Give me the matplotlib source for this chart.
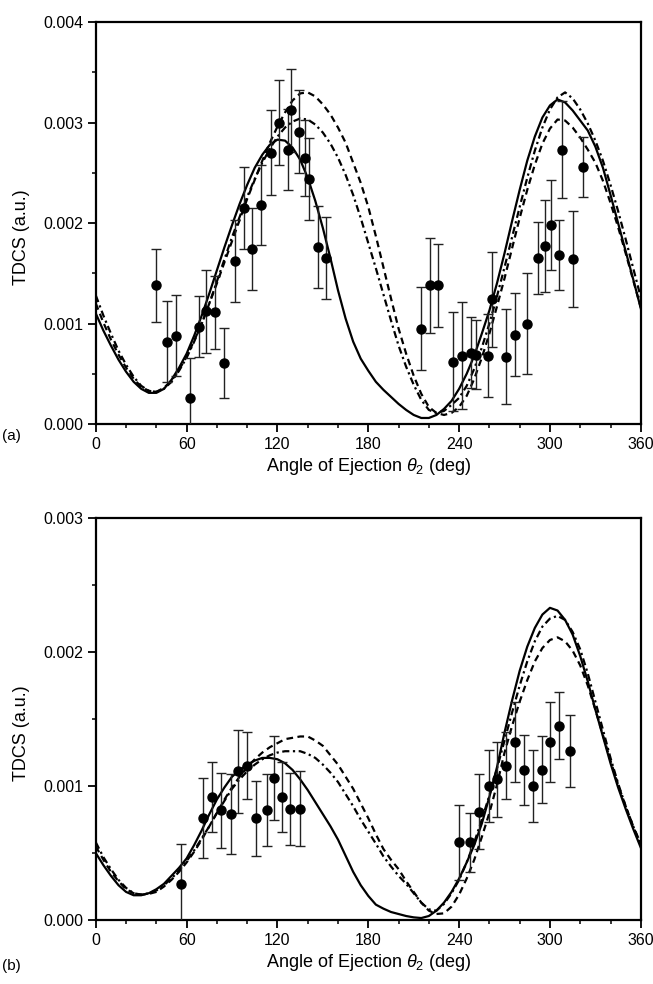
import numpy as np
import matplotlib
matplotlib.use('Agg')
import matplotlib.pyplot as plt
from matplotlib.ticker import MultipleLocator

plt.rcParams['font.family'] = ['Liberation Sans', 'DejaVu Sans']
plt.rcParams['mathtext.fontset'] = 'custom'
plt.rcParams['mathtext.it'] = 'Liberation Sans:italic'
plt.rcParams['mathtext.rm'] = 'Liberation Sans'

# ---------------- panel (a) : experiment (TDCS x 1e-3) ----------------
a_ang = [40, 47, 53, 62, 68, 73, 79, 85, 92, 98, 103, 109, 116, 121, 127, 129,
         134, 138, 141, 147, 152, 215, 221, 226, 236, 242, 248, 251, 259, 262,
         271, 277, 285, 292, 297, 301, 306, 308, 315, 322]
a_tdcs = [1.38, 0.82, 0.88, 0.26, 0.97, 1.12, 1.11, 0.61, 1.62, 2.15, 1.74, 2.18,
          2.70, 3.00, 2.73, 3.12, 2.91, 2.65, 2.44, 1.76, 1.65, 0.95, 1.38, 1.38,
          0.62, 0.68, 0.71, 0.69, 0.68, 1.24, 0.67, 0.89, 1.00, 1.65, 1.77, 1.98,
          1.68, 2.73, 1.64, 2.56]
a_err = [0.36, 0.40, 0.40, 0.40, 0.30, 0.41, 0.36, 0.35, 0.41, 0.41, 0.41, 0.40,
         0.42, 0.42, 0.40, 0.41, 0.41, 0.38, 0.41, 0.41, 0.41, 0.41, 0.47, 0.41,
         0.49, 0.53, 0.35, 0.34, 0.41, 0.47, 0.47, 0.41, 0.50, 0.36, 0.46, 0.45,
         0.35, 0.48, 0.48, 0.30]

# ---------------- panel (b) : experiment (TDCS x 1e-3) ----------------
b_ang = [56, 71, 77, 83, 89, 94, 100, 106, 113, 118, 123, 128, 135,
         240, 247, 253, 260, 265, 271, 277, 283, 289, 295, 300, 306, 313]
b_tdcs = [0.27, 0.76, 0.92, 0.82, 0.79, 1.11, 1.15, 0.76, 0.82, 1.06, 0.92, 0.83, 0.83,
          0.58, 0.58, 0.81, 1.00, 1.05, 1.15, 1.33, 1.12, 1.00, 1.12, 1.33, 1.45, 1.26]
b_err = [0.30, 0.30, 0.26, 0.28, 0.30, 0.31, 0.25, 0.28, 0.27, 0.31, 0.26, 0.27, 0.28,
         0.28, 0.22, 0.28, 0.27, 0.28, 0.25, 0.30, 0.26, 0.27, 0.25, 0.30, 0.25, 0.27]

# ---------------- theory curves (TDCS x 1e-3, every 5 deg from 0 to 360) ----------------
theory_ang = list(range(0, 361, 5))

a_solid = [1.10, 0.93, 0.78, 0.64, 0.52, 0.42, 0.35, 0.31, 0.31, 0.35, 0.44, 0.56,
           0.70, 0.88, 1.08, 1.30, 1.53, 1.76, 1.98, 2.19, 2.38, 2.55, 2.68, 2.78,
           2.83, 2.82, 2.75, 2.63, 2.45, 2.22, 1.95, 1.65, 1.33, 1.05, 0.82, 0.65,
           0.53, 0.42, 0.34, 0.27, 0.20, 0.14, 0.09, 0.06, 0.06, 0.09, 0.15, 0.23,
           0.35, 0.50, 0.68, 0.90, 1.13, 1.40, 1.70, 2.02, 2.33, 2.62, 2.86, 3.05,
           3.17, 3.23, 3.20, 3.12, 3.02, 2.92, 2.76, 2.55, 2.28, 2.00, 1.72, 1.44, 1.15]
a_dash = [1.20, 1.01, 0.84, 0.69, 0.56, 0.45, 0.37, 0.33, 0.32, 0.36, 0.43, 0.54,
          0.67, 0.83, 1.00, 1.20, 1.40, 1.61, 1.82, 2.03, 2.24, 2.43, 2.62, 2.80,
          2.96, 3.10, 3.22, 3.29, 3.30, 3.26, 3.18, 3.08, 2.95, 2.80, 2.60, 2.40,
          2.16, 1.87, 1.56, 1.25, 0.95, 0.70, 0.48, 0.30, 0.17, 0.11, 0.09, 0.11,
          0.17, 0.28, 0.45, 0.66, 0.90, 1.17, 1.45, 1.75, 2.05, 2.33, 2.58, 2.79,
          2.94, 3.03, 3.02, 2.95, 2.85, 2.73, 2.60, 2.42, 2.20, 1.96, 1.70, 1.43, 1.16]
a_dashdot = [1.28, 1.08, 0.90, 0.73, 0.59, 0.47, 0.38, 0.33, 0.32, 0.35, 0.42, 0.53,
             0.66, 0.82, 1.00, 1.20, 1.42, 1.64, 1.86, 2.06, 2.26, 2.44, 2.60, 2.74,
             2.86, 2.95, 3.01, 3.04, 3.03, 2.98, 2.90, 2.79, 2.65, 2.48, 2.28, 2.05,
             1.80, 1.55, 1.29, 1.03, 0.78, 0.57, 0.39, 0.24, 0.14, 0.11, 0.13, 0.19,
             0.26, 0.38, 0.55, 0.76, 1.00, 1.27, 1.56, 1.86, 2.16, 2.45, 2.72, 2.95,
             3.13, 3.25, 3.30, 3.24, 3.13, 2.99, 2.82, 2.62, 2.38, 2.12, 1.84, 1.55, 1.26]

b_solid = [0.50, 0.41, 0.33, 0.26, 0.21, 0.185, 0.185, 0.20, 0.23, 0.27, 0.33, 0.39,
           0.46, 0.56, 0.67, 0.79, 0.90, 0.99, 1.07, 1.12, 1.16, 1.19, 1.21, 1.21,
           1.20, 1.17, 1.12, 1.05, 0.97, 0.88, 0.79, 0.70, 0.60, 0.48, 0.36, 0.26,
           0.18, 0.115, 0.085, 0.06, 0.045, 0.03, 0.02, 0.015, 0.03, 0.07, 0.13, 0.21,
           0.31, 0.43, 0.56, 0.72, 0.92, 1.14, 1.40, 1.64, 1.86, 2.04, 2.18, 2.28,
           2.33, 2.31, 2.24, 2.13, 1.97, 1.78, 1.57, 1.37, 1.17, 0.99, 0.83, 0.68, 0.54]
b_dash = [0.55, 0.45, 0.36, 0.29, 0.23, 0.20, 0.19, 0.195, 0.21, 0.25, 0.30, 0.36,
          0.43, 0.51, 0.60, 0.70, 0.80, 0.90, 0.99, 1.07, 1.14, 1.20, 1.25, 1.29,
          1.32, 1.35, 1.36, 1.37, 1.37, 1.34, 1.30, 1.23, 1.16, 1.07, 0.98, 0.87,
          0.76, 0.64, 0.53, 0.45, 0.38, 0.29, 0.21, 0.13, 0.07, 0.045, 0.05, 0.10,
          0.19, 0.31, 0.45, 0.62, 0.80, 1.01, 1.25, 1.45, 1.63, 1.79, 1.93, 2.03,
          2.09, 2.11, 2.08, 2.01, 1.90, 1.75, 1.57, 1.38, 1.19, 1.01, 0.85, 0.70, 0.56]
b_dashdot = [0.58, 0.47, 0.38, 0.30, 0.24, 0.20, 0.19, 0.20, 0.22, 0.26, 0.31, 0.37,
             0.44, 0.52, 0.61, 0.70, 0.80, 0.89, 0.98, 1.05, 1.11, 1.16, 1.20, 1.23,
             1.25, 1.26, 1.26, 1.26, 1.24, 1.21, 1.16, 1.10, 1.03, 0.94, 0.85, 0.75,
             0.66, 0.57, 0.475, 0.40, 0.33, 0.27, 0.20, 0.13, 0.08, 0.07, 0.12, 0.20,
             0.30, 0.43, 0.58, 0.75, 0.93, 1.13, 1.34, 1.55, 1.75, 1.93, 2.08, 2.19,
             2.25, 2.27, 2.24, 2.15, 2.02, 1.84, 1.63, 1.42, 1.21, 1.02, 0.85, 0.70, 0.57]

panels = [
    dict(ang=a_ang, y=a_tdcs, err=a_err, curves=(a_solid, a_dash, a_dashdot),
         ymax=0.004, tag='(a)', tag_y=1 - 436 / 984,
         rect=[0.1467, 0.5691, 0.8346, 0.4085]),
    dict(ang=b_ang, y=b_tdcs, err=b_err, curves=(b_solid, b_dash, b_dashdot),
         ymax=0.003, tag='(b)', tag_y=1 - 966 / 984,
         rect=[0.1467, 0.0650, 0.8346, 0.4085]),
]

fig = plt.figure(figsize=(6.53, 9.84), dpi=100)

for p in panels:
    ax = fig.add_axes(p['rect'])
    sc = 1e-3
    solid, dash, dashdot = p['curves']
    ax.plot(theory_ang, np.array(solid) * sc, color='black', lw=1.6)
    ax.plot(theory_ang, np.array(dash) * sc, color='black', lw=1.6, dashes=(3, 2))
    ax.plot(theory_ang, np.array(dashdot) * sc, color='black', lw=1.6,
            dashes=(3.2, 1.6, 1, 1.6))
    ax.errorbar(p['ang'], np.array(p['y']) * sc, yerr=np.array(p['err']) * sc,
                fmt='o', color='black', ecolor='#222222', elinewidth=1.0,
                capsize=3.3, capthick=1.0, markersize=6.5, zorder=5)

    ax.set_xlim(0, 360)
    ax.set_ylim(0, p['ymax'])
    ax.xaxis.set_major_locator(MultipleLocator(60))
    ax.xaxis.set_minor_locator(MultipleLocator(20))
    ax.yaxis.set_major_locator(MultipleLocator(0.001))
    ax.yaxis.set_minor_locator(MultipleLocator(0.0005))
    ax.yaxis.set_major_formatter(plt.FormatStrFormatter('%.3f'))
    ax.tick_params(which='major', direction='out', length=6, width=1.3,
                   labelsize=11.5, pad=3, top=False, right=False)
    ax.tick_params(which='minor', direction='out', length=3.2, width=1.1,
                   top=False, right=False)
    for s in ax.spines.values():
        s.set_linewidth(1.6)

    ax.set_ylabel('TDCS (a.u.)', fontsize=13, labelpad=8)
    ax.yaxis.set_label_coords(-0.12, 0.465)
    ax.set_xlabel(r'Angle of Ejection $\mathit{\theta}_2$ (deg)', fontsize=13,
                  labelpad=3)
    fig.text(0.003, p['tag_y'], p['tag'], fontsize=11, ha='left', va='center')

fig.savefig('out.png', dpi=100)
